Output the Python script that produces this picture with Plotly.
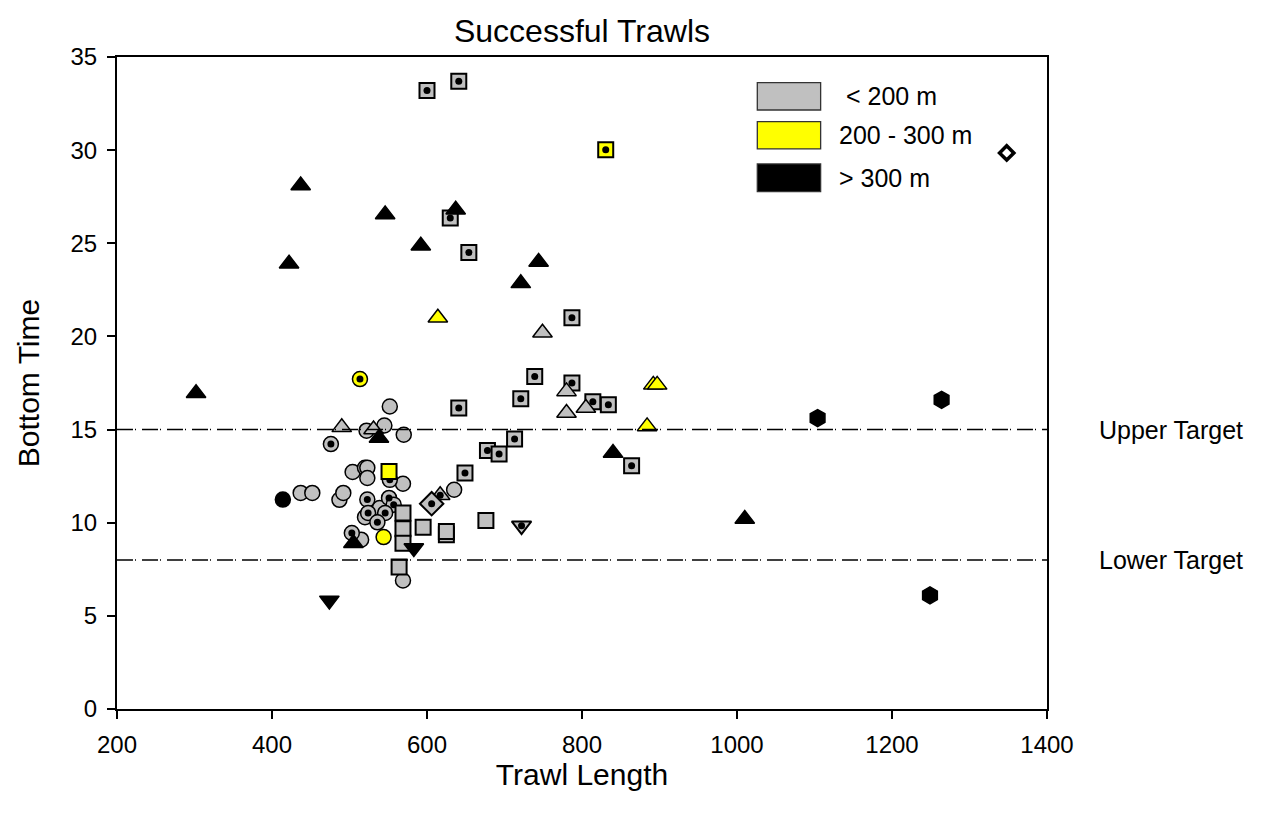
import plotly.graph_objects as go

# ---------------- data (Trawl Length, Bottom Time) ----------------
gray_circle_x = [552, 522, 545, 570, 504, 520, 523, 523, 569, 437, 452, 487, 492, 635, 515, 569, 539, 520]
gray_circle_y = [16.24, 14.94, 15.22, 14.72, 12.72, 12.95, 12.95, 12.4, 12.09, 11.6, 11.6, 11.23, 11.6, 11.77, 9.09, 6.9, 10.79, 10.3]

gray_circle_dot_x = [476, 552, 523, 551, 557, 524, 546, 536, 503]
gray_circle_dot_y = [14.22, 12.3, 11.24, 11.33, 10.97, 10.52, 10.52, 10.02, 9.45]

gray_square_x = [569, 569, 569, 595, 625, 625, 564, 676]
gray_square_y = [10.52, 9.68, 8.9, 9.75, 9.35, 9.53, 7.62, 10.12]

gray_square_dot_x = [600, 641, 630, 654, 787, 739, 787, 721, 814, 834, 641, 713, 678, 693, 649, 864]
gray_square_dot_y = [33.2, 33.7, 26.36, 24.5, 21.0, 17.85, 17.5, 16.66, 16.5, 16.33, 16.16, 14.49, 13.87, 13.69, 12.67, 13.06]

gray_tri_x = [490, 531, 780, 805, 749, 780]
gray_tri_y = [15.12, 15.0, 15.89, 16.16, 20.2, 17.05]

gray_tri_dot_x = [617]
gray_tri_dot_y = [11.47]

gray_diamond_dot_x = [606]
gray_diamond_dot_y = [11.02]

gray_tridown_dot_x = [722]
gray_tridown_dot_y = [9.84]

yellow_circle_x = [544]
yellow_circle_y = [9.23]
yellow_circle_dot_x = [513.5]
yellow_circle_dot_y = [17.71]
yellow_square_x = [551]
yellow_square_y = [12.75]
yellow_square_dot_x = [830.6]
yellow_square_dot_y = [30.02]
yellow_tri_x = [614, 892, 897, 884]
yellow_tri_y = [21.0, 17.4, 17.4, 15.17]

black_tri_x = [437, 422, 546, 637, 592, 744, 721, 302, 538, 505, 840, 1010]
black_tri_y = [28.1, 23.9, 26.55, 26.8, 24.87, 24.0, 22.85, 16.95, 14.55, 8.9, 13.74, 10.2]
black_tridown_x = [474, 583]
black_tridown_y = [5.83, 8.64]
black_circle_x = [414]
black_circle_y = [11.24]
black_hex_x = [1104, 1264, 1249]
black_hex_y = [15.62, 16.6, 6.1]
white_diamond_x = [1348]
white_diamond_y = [29.85]

targets = [15, 8]
target_labels = ["Upper Target", "Lower Target"]
legend_labels = [" < 200 m", "200 - 300 m", "> 300 m"]
legend_colors = ["#C0C0C0", "#FFFF00", "#000000"]

x_ticks = [200, 400, 600, 800, 1000, 1200, 1400]
y_ticks = [0, 5, 10, 15, 20, 25, 30, 35]

GRAY = "#C0C0C0"
YEL = "#FFFF00"
FONT = "Liberation Sans, Arial, sans-serif"

fig = go.Figure()


def add(x, y, symbol, fill, size, lw=1.5, dot=False):
    fig.add_trace(go.Scatter(
        x=x, y=y, mode="markers", showlegend=False, hoverinfo="skip",
        marker=dict(symbol=symbol, size=size, color=fill,
                    line=dict(color="black", width=lw))))
    if dot:
        fig.add_trace(go.Scatter(
            x=x, y=y, mode="markers", showlegend=False, hoverinfo="skip",
            marker=dict(symbol="circle", size=7, color="black",
                        line=dict(width=0))))


add(gray_circle_x, gray_circle_y, "circle", GRAY, 15)
add(gray_circle_dot_x, gray_circle_dot_y, "circle", GRAY, 15, dot=True)
add(gray_square_x, gray_square_y, "square", GRAY, 15, lw=2)
add(gray_square_dot_x, gray_square_dot_y, "square", GRAY, 15, lw=2, dot=True)
add(gray_tri_x, gray_tri_y, "triangle-up", GRAY, 17)
add(gray_tri_dot_x, gray_tri_dot_y, "triangle-up", GRAY, 17, dot=True)
add(gray_diamond_dot_x, gray_diamond_dot_y, "diamond", GRAY, 18, lw=2, dot=True)
add(gray_tridown_dot_x, gray_tridown_dot_y, "triangle-down", GRAY, 17, lw=2, dot=True)
add(yellow_circle_x, yellow_circle_y, "circle", YEL, 15)
add(yellow_circle_dot_x, yellow_circle_dot_y, "circle", YEL, 15, dot=True)
add(yellow_square_x, yellow_square_y, "square", YEL, 15, lw=2)
add(yellow_square_dot_x, yellow_square_dot_y, "square", YEL, 15, lw=2, dot=True)
add(yellow_tri_x, yellow_tri_y, "triangle-up", YEL, 17)
add(black_tri_x, black_tri_y, "triangle-up", "black", 17)
add(black_tridown_x, black_tridown_y, "triangle-down", "black", 17)
add(black_circle_x, black_circle_y, "circle", "black", 15)
add(black_hex_x, black_hex_y, "hexagon", "black", 17)
add(white_diamond_x, white_diamond_y, "diamond", "white", 11, lw=3.5)

shapes = []
annotations = []
for t, lab in zip(targets, target_labels):
    shapes.append(dict(type="line", xref="x domain", yref="y", x0=0, x1=1, y0=t, y1=t,
                       line=dict(color="black", width=1.5, dash="16px,2px,1px,6px")))
    annotations.append(dict(xref="paper", yref="y", x=1.133, y=t, text=lab, showarrow=False,
                            xanchor="center", yanchor="middle",
                            font=dict(family=FONT, size=25, color="black")))

# custom legend (box tops / bottoms in plot-area fractions)
box_tops = [0.9606, 0.9008, 0.8360]
box_bottoms = [0.9187, 0.8590, 0.7935]
for lab, col, t, b in zip(legend_labels, legend_colors, box_tops, box_bottoms):
    shapes.append(dict(type="rect", xref="x domain", yref="y domain",
                       x0=0.6885, x1=0.7566, y0=b, y1=t,
                       fillcolor=col, line=dict(color="#333333", width=1.3)))
    annotations.append(dict(xref="x domain", yref="y domain", x=0.774, y=(t + b) / 2,
                            text=lab, showarrow=False, xanchor="left", yanchor="middle",
                            font=dict(family=FONT, size=25, color="black")))

fig.update_layout(
    width=1263, height=820,
    margin=dict(l=117, r=216, t=57, b=111),
    paper_bgcolor="white", plot_bgcolor="white",
    title=dict(text="Successful Trawls", x=0.4608, xanchor="center", y=0.963, yanchor="middle",
               font=dict(family=FONT, size=32, color="black")),
    shapes=shapes, annotations=annotations,
    xaxis=dict(range=[200, 1400], tickvals=x_ticks, showgrid=False, zeroline=False,
               showline=True, linecolor="black", linewidth=2, mirror=True,
               ticks="outside", ticklen=8, tickwidth=1.5, tickcolor="black",
               ticklabelstandoff=5,
               tickfont=dict(family=FONT, size=24, color="black"),
               title=dict(text="Trawl Length", font=dict(family=FONT, size=30, color="black"),
                          standoff=1)),
    yaxis=dict(range=[0, 35], tickvals=y_ticks, showgrid=False, zeroline=False,
               showline=True, linecolor="black", linewidth=2, mirror=True,
               ticks="outside", ticklen=8, tickwidth=1.5, tickcolor="black",
               ticklabelstandoff=5,
               tickfont=dict(family=FONT, size=24, color="black"),
               title=dict(text="Bottom Time", font=dict(family=FONT, size=30, color="black"),
                          standoff=22)),
)

fig.write_html("out.html")
